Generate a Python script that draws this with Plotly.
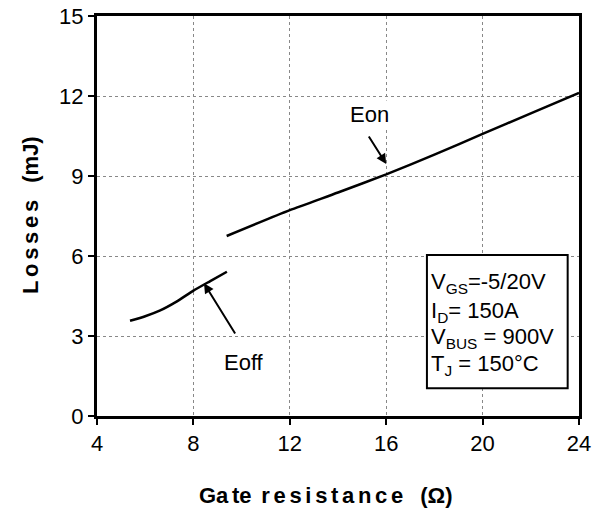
import plotly.graph_objects as go

# Data
eon_x = [9.38, 12.0, 14.0, 16.0, 18.0, 20.0, 22.0, 24.0]
eon_y = [6.75, 7.72, 8.38, 9.06, 9.80, 10.58, 11.35, 12.12]
eoff_x = [5.37, 6.0, 6.6, 7.3, 8.0, 8.7, 9.39]
eoff_y = [3.57, 3.74, 3.95, 4.29, 4.70, 5.06, 5.41]

x_ticks = [4, 8, 12, 16, 20, 24]
y_ticks = [0, 3, 6, 9, 12, 15]

cond_lines = ["V<sub>GS</sub>=-5/20V", "I<sub>D</sub>= 150A", "V<sub>BUS</sub> = 900V", "T<sub>J</sub> = 150°C"]
cond_y = [4.99, 3.91, 2.92, 1.91]

FONT = "Arial, Liberation Sans, sans-serif"
SP = "\u2006"   # narrow space for the wide letter spacing of the titles
WORD = " " + SP         # gap between words
WIDE = "\u2002 "        # wider gap before the unit

fig = go.Figure()
fig.add_trace(go.Scatter(x=eon_x, y=eon_y, mode="lines",
                         line=dict(color="black", width=2.5, shape="spline", smoothing=0.6), name="Eon"))
fig.add_trace(go.Scatter(x=eoff_x, y=eoff_y, mode="lines",
                         line=dict(color="black", width=2.5, shape="spline", smoothing=0.6), name="Eoff"))

# conditions box
fig.add_shape(type="rect", x0=17.69, x1=23.53, y0=1.04, y1=6.04, xref="x", yref="y",
              line=dict(color="black", width=2), fillcolor="white", layer="above")
for txt, yy in zip(cond_lines, cond_y):
    fig.add_annotation(x=17.76, y=yy, xref="x", yref="y", xanchor="left", yanchor="middle", align="left",
                       showarrow=False, text=txt,
                       font=dict(family=FONT, size=22, color="black"))

# labels with arrows
fig.add_annotation(x=16.0, y=9.45, ax=15.24, ay=10.54, xref="x", yref="y", axref="x", ayref="y",
                   text="", showarrow=True, arrowhead=2, arrowsize=1, arrowwidth=2, arrowcolor="black")
fig.add_annotation(x=15.3, y=11.3, xref="x", yref="y", text="Eon", showarrow=False,
                   bgcolor="white", font=dict(family=FONT, size=22, color="black"))
fig.add_annotation(x=8.44, y=4.98, ax=9.77, ay=3.04, xref="x", yref="y", axref="x", ayref="y",
                   text="", showarrow=True, arrowhead=2, arrowsize=1, arrowwidth=2, arrowcolor="black")
fig.add_annotation(x=10.1, y=2.0, xref="x", yref="y", text="Eoff", showarrow=False,
                   bgcolor="white", font=dict(family=FONT, size=22, color="black"))

# axis titles
x_title = "Ga" + SP + "te" + WORD + SP.join("resistance") + WIDE + "(Ω)"
y_title = SP.join("Losses") + WIDE + "(mJ)"
fig.add_annotation(x=0.475, y=-0.1975, xref="paper", yref="paper", showarrow=False,
                   xanchor="center", yanchor="middle", text="<b>" + x_title + "</b>",
                   font=dict(family=FONT, size=22, color="black"))
fig.add_annotation(x=-0.139, y=0.5025, xref="paper", yref="paper", showarrow=False, textangle=-90,
                   xanchor="center", yanchor="middle", text="<b>" + y_title + "</b>",
                   font=dict(family=FONT, size=22, color="black"))

fig.update_layout(
    width=592, height=521,
    margin=dict(l=97, r=13, t=16, b=105, autoexpand=False),
    paper_bgcolor="white", plot_bgcolor="white",
    showlegend=False,
    font=dict(family=FONT, size=22, color="black"),
)
axis_common = dict(ticks="outside", ticklen=6, tickwidth=2, tickcolor="black",
                   showline=True, linecolor="black", linewidth=3, mirror=True,
                   showgrid=True, gridcolor="#888888", griddash="dot", gridwidth=1,
                   zeroline=False, automargin=False, ticklabeloverflow="allow",
                   tickfont=dict(family=FONT, size=22, color="black"))
fig.update_xaxes(range=[4, 24], tickvals=x_ticks, **axis_common)
fig.update_yaxes(range=[0, 15], tickvals=y_ticks, **axis_common)

# remove the default page margin so the figure fills the window exactly
fig.write_html("out.html", config={"displayModeBar": False},
               post_script="document.body.style.margin='0';document.body.style.overflow='hidden';")
